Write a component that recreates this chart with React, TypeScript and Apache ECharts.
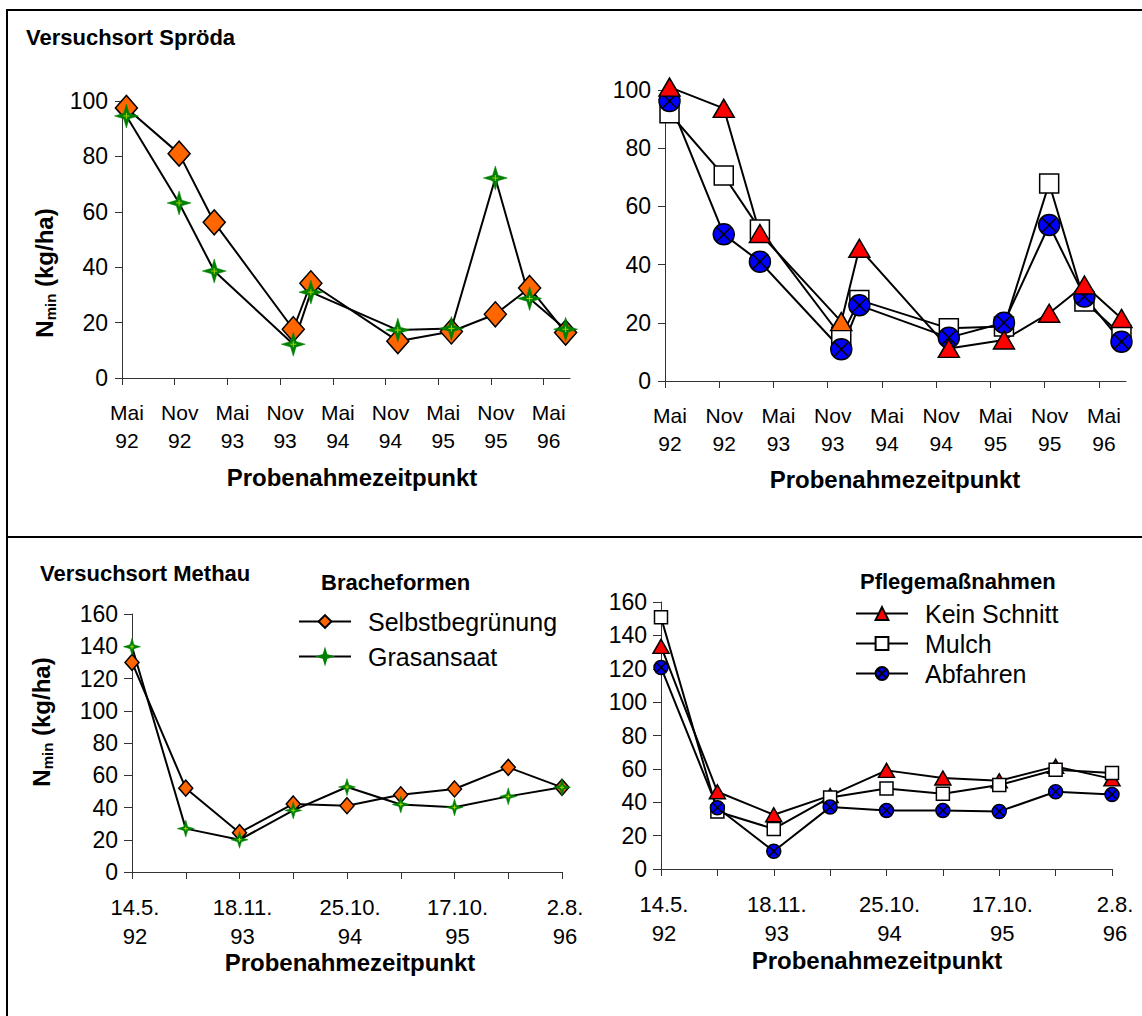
import React, { useEffect, useRef } from 'react';
import * as echarts from 'echarts';

const FF = '"Liberation Sans", Arial, Helvetica, sans-serif';

// ---- Versuchsort Spröda (top): sampling time in months after 1 May 1992 ----
const sprodaMonths = [0.5, 6.5, 10.5, 19.5, 21.5, 31.4, 37.5, 42.5, 46.4, 50.5];
const sprodaSelbst = [97.5, 81, 56.2, 17.6, 34.2, 13.3, 16.8, 23, 32.5, 16.4];
const sprodaGras = [94.6, 63.2, 38.6, 12.2, 31, 17.3, 17.9, 72.2, 28.7, 17.6];
const sprodaKein = [101, 93.7, 50.7, 20.4, 45.6, 11.2, 14.1, 23.3, 33, 21.5];
const sprodaMulch = [92, 70.6, 52.1, 15.2, 27.8, 18.1, 18.7, 67.9, 27.3, 15.8];
const sprodaAbf = [96.2, 50.4, 41, 10.9, 26, 14.9, 20, 53.6, 29, 13.5];
const sprodaTickValues = [0, 6, 12, 18, 24, 30, 36, 42, 48];
const sprodaTickLabels = ['Mai\n92', 'Nov\n92', 'Mai\n93', 'Nov\n93', 'Mai\n94', 'Nov\n94', 'Mai\n95', 'Nov\n95', 'Mai\n96'];

// ---- Versuchsort Methau (bottom): 9 sampling dates ----
const methauIndex = [0, 1, 2, 3, 4, 5, 6, 7, 8];
const methauLabels = ['14.5.\n92', '', '18.11.\n93', '', '25.10.\n94', '', '17.10.\n95', '', '2.8.\n96'];
const methauSelbst = [130, 52, 24.4, 42.2, 41.1, 47.9, 51.5, 64.9, 52.5];
const methauGras = [139.7, 26.9, 20, 38.2, 52.7, 41.9, 40.1, 46.9, 52.5];
const methauKein = [133.4, 46.3, 32.5, 44, 59.1, 54.5, 52.9, 61.5, 54];
const methauMulch = [150.8, 34.5, 24, 42.9, 48.3, 45.1, 50.3, 59.5, 57.5];
const methauAbf = [120.8, 36.7, 10.6, 37.1, 35.1, 35.1, 34.5, 46.3, 44.7];

const pts = (xs: number[], ys: number[]) => ys.map((y, i) => [xs[i], y]);

const STAR = 'path://M10,0 L12.3,7.7 L20,10 L12.3,12.3 L10,20 L7.7,12.3 L0,10 L7.7,7.7 Z';
const XCIRCLE = 'path://M10,0 A10,10 0 1,1 10,20 A10,10 0 1,1 10,0 Z M2.93,2.93 L17.07,17.07 M17.07,2.93 L2.93,17.07';
const CROSS = 'path://M0,5 L10,5 M5,0 L5,10';

const ORANGE = '#ff6600';
const GREEN = '#008000';
const RED = '#ff0000';
const BLUE = '#0000ff';
const AXIS = '#333333';

function line(name: string, x: number, y: number, data: any[], symbol: string, size: any, fill: string, extra: any = {}) {
  return {
    name,
    type: 'line',
    xAxisIndex: x,
    yAxisIndex: y,
    data,
    symbol,
    symbolSize: size,
    showSymbol: true,
    showAllSymbol: true,
    clip: false,
    lineStyle: { color: '#000', width: 2 },
    itemStyle: { color: fill, borderColor: '#000', borderWidth: 1.5 },
    emphasis: { disabled: true },
    silent: true,
    ...extra,
  };
}

function starCenter(x: number, y: number, data: any[], size: number) {
  return {
    type: 'line',
    xAxisIndex: x,
    yAxisIndex: y,
    data,
    symbol: CROSS,
    symbolSize: size,
    showAllSymbol: true,
    clip: false,
    lineStyle: { opacity: 0, width: 0 },
    itemStyle: { color: 'none', borderColor: '#a6d600', borderWidth: 1 },
    emphasis: { disabled: true },
    silent: true,
    z: 5,
  };
}

const tickLabelStyle = { color: '#000', fontFamily: FF };

function topX(grid: number) {
  return {
    type: 'value',
    gridIndex: grid,
    min: 0,
    max: 51,
    interval: 6,
    axisLine: { lineStyle: { color: AXIS, width: 1 } },
    axisTick: { length: 7, customValues: sprodaTickValues, lineStyle: { color: AXIS } },
    axisLabel: {
      ...tickLabelStyle,
      fontSize: 21,
      lineHeight: 28,
      margin: 20,
      padding: [0, 0, 0, 10],
      customValues: sprodaTickValues,
      formatter: (v: number) => sprodaTickLabels[Math.round(v / 6)] ?? '',
    },
    splitLine: { show: false },
  };
}

function topY(grid: number) {
  return {
    type: 'value',
    gridIndex: grid,
    min: 0,
    max: 100,
    interval: 20,
    axisLine: { show: true, lineStyle: { color: AXIS, width: 1 } },
    axisTick: { show: true, length: 7, lineStyle: { color: AXIS } },
    axisLabel: { ...tickLabelStyle, fontSize: 23, margin: 14 },
    splitLine: { show: false },
  };
}

function botX(grid: number, inside: boolean) {
  return {
    type: 'value',
    gridIndex: grid,
    min: 0,
    max: 8,
    interval: 1,
    axisLine: { show: !inside, lineStyle: { color: AXIS, width: 1 } },
    axisTick: { show: true, inside, length: 7, lineStyle: { color: AXIS } },
    axisLabel: inside
      ? { show: false }
      : {
          ...tickLabelStyle,
          fontSize: 22,
          lineHeight: 29,
          margin: 21,
          padding: [0, 0, 0, 6],
          formatter: (v: number) => methauLabels[Math.round(v)] ?? '',
        },
    splitLine: { show: false },
  };
}

function botY(grid: number, inside: boolean) {
  return {
    type: 'value',
    gridIndex: grid,
    min: 0,
    max: 160,
    interval: 20,
    axisLine: { show: !inside, lineStyle: { color: AXIS, width: 1 } },
    axisTick: { show: true, inside, length: 8, lineStyle: { color: AXIS } },
    axisLabel: inside ? { show: false } : { ...tickLabelStyle, fontSize: 23, margin: 14 },
    splitLine: { show: false },
  };
}

function txt(text: string, x: number, y: number, size: number, bold: boolean, align = 'left') {
  return {
    type: 'text',
    x,
    y,
    silent: true,
    style: {
      text,
      fill: '#000',
      fontSize: size,
      fontWeight: bold ? 'bold' : 'normal',
      fontFamily: FF,
      align,
      verticalAlign: 'middle',
    },
  };
}

function yName(x: number, y: number) {
  return {
    type: 'text',
    x,
    y,
    rotation: Math.PI / 2,
    silent: true,
    style: {
      text: '{a|N}{b|min}{a| (kg/ha)}',
      align: 'center',
      verticalAlign: 'middle',
      fill: '#000',
      rich: {
        a: { fontSize: 24, fontWeight: 'bold', fontFamily: FF, lineHeight: 28, verticalAlign: 'middle' },
        b: { fontSize: 15, fontWeight: 'bold', fontFamily: FF, lineHeight: 15, verticalAlign: 'bottom' },
      },
    },
  };
}

const legendText = { fontSize: 25, fontFamily: FF, color: '#000', lineHeight: 16, padding: [0, 0, 0, 12] };

export default function App() {
  const ref = useRef<HTMLDivElement>(null);
  useEffect(() => {
    document.body.style.margin = '0';
    const chart = echarts.init(ref.current!, null, { renderer: 'svg' });
    const option: any = {
      animation: false,
      backgroundColor: '#ffffff',
      grid: [
        { left: 122, top: 101, width: 448, height: 277 },
        { left: 665, top: 90, width: 461, height: 291 },
        { left: 132, top: 614, width: 430, height: 258 },
        { left: 661, top: 602, width: 451, height: 267 },
      ],
      xAxis: [topX(0), topX(1), botX(2, false), botX(3, false), botX(2, true), botX(3, true)],
      yAxis: [topY(0), topY(1), botY(2, false), botY(3, false), botY(2, true), botY(3, true)],
      legend: [
        {
          data: ['Selbstbegrünung', 'Grasansaat'],
          orient: 'vertical',
          left: 298,
          top: 609,
          padding: 0,
          itemWidth: 52,
          itemHeight: 16,
          itemGap: 10,
          selectedMode: false,
          textStyle: legendText,
        },
        {
          data: ['Kein Schnitt', 'Mulch', 'Abfahren'],
          orient: 'vertical',
          left: 855,
          top: 601,
          padding: 0,
          itemWidth: 52,
          itemHeight: 16,
          itemGap: 5,
          selectedMode: false,
          textStyle: legendText,
        },
      ],
      graphic: [
        { type: 'line', silent: true, shape: { x1: 6, y1: 10, x2: 1142, y2: 10 }, style: { stroke: '#000', lineWidth: 2 } },
        { type: 'line', silent: true, shape: { x1: 7, y1: 9, x2: 7, y2: 1016 }, style: { stroke: '#000', lineWidth: 2 } },
        { type: 'line', silent: true, shape: { x1: 6, y1: 537, x2: 1142, y2: 537 }, style: { stroke: '#000', lineWidth: 2 } },
        txt('Versuchsort Spröda', 26, 37, 22, true),
        txt('Versuchsort Methau', 40, 573, 22, true),
        txt('Bracheformen', 321, 582, 22, true),
        txt('Pflegemaßnahmen', 860, 581, 22, true),
        txt('Probenahmezeitpunkt', 352, 477, 24, true, 'center'),
        txt('Probenahmezeitpunkt', 895, 479, 24, true, 'center'),
        txt('Probenahmezeitpunkt', 350, 962, 24, true, 'center'),
        txt('Probenahmezeitpunkt', 877, 960, 24, true, 'center'),
        yName(44, 273),
        yName(41, 722),
      ],
      series: [
        // top-left
        line('Selbstbegrünung', 0, 0, pts(sprodaMonths, sprodaSelbst), 'diamond', [22, 25], ORANGE),
        line('Grasansaat', 0, 0, pts(sprodaMonths, sprodaGras), STAR, 24, GREEN, { itemStyle: { color: GREEN, borderColor: GREEN, borderWidth: 0.5 } }),
        starCenter(0, 0, pts(sprodaMonths, sprodaGras), 6),
        // top-right
        line('Mulch', 1, 1, pts(sprodaMonths, sprodaMulch), 'rect', 19, '#ffffff'),
        line('Abfahren', 1, 1, pts(sprodaMonths, sprodaAbf), XCIRCLE, 21, BLUE),
        line(
          'Kein Schnitt',
          1,
          1,
          sprodaKein.map((v, i) =>
            i === 3 ? { value: [sprodaMonths[i], v], itemStyle: { color: ORANGE } } : [sprodaMonths[i], v]
          ),
          'triangle',
          [21, 18],
          RED
        ),
        // bottom-left
        line('Selbstbegrünung', 2, 2, pts(methauIndex, methauSelbst), 'diamond', [14, 16], ORANGE),
        line('Grasansaat', 2, 2, pts(methauIndex, methauGras), STAR, 17, GREEN, { itemStyle: { color: GREEN, borderColor: GREEN, borderWidth: 0.5 } }),
        starCenter(2, 2, pts(methauIndex, methauGras), 4),
        // bottom-right
        line('Kein Schnitt', 3, 3, pts(methauIndex, methauKein), 'triangle', [16, 14], RED),
        line('Mulch', 3, 3, pts(methauIndex, methauMulch), 'rect', 13, '#ffffff'),
        line('Abfahren', 3, 3, pts(methauIndex, methauAbf), XCIRCLE, 14, BLUE),
      ],
    };
    chart.setOption(option);
    return () => chart.dispose();
  }, []);
  return <div ref={ref} style={{ width: 1142, height: 1016 }} />;
}
